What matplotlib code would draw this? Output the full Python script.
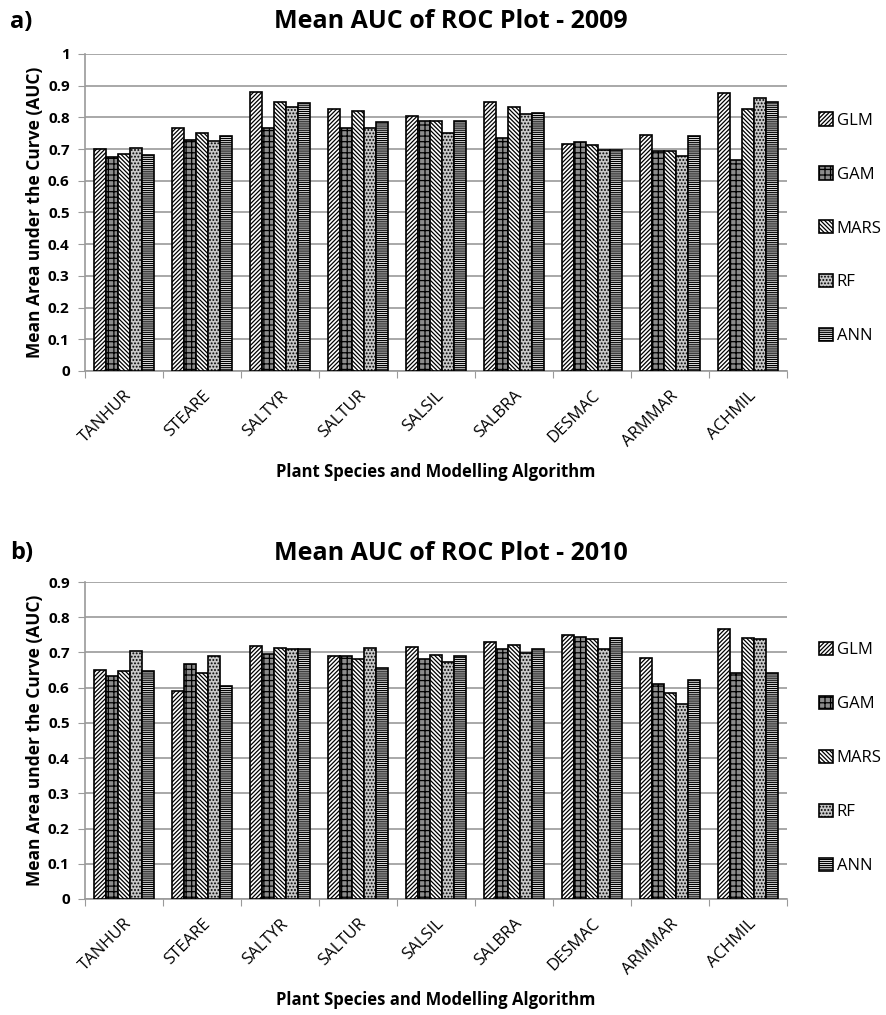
import numpy as np
import matplotlib as mpl
import matplotlib.pyplot as plt

mpl.use('Agg')

plt.rcParams['font.family'] = ['Open Sans', 'DejaVu Sans']
plt.rcParams['hatch.linewidth'] = 0.9

species = ["TANHUR", "STEARE", "SALTYR", "SALTUR", "SALSIL",
           "SALBRA", "DESMAC", "ARMMAR", "ACHMIL"]
models = ["GLM", "GAM", "MARS", "RF", "ANN"]

# mean AUC per species, one list per algorithm
auc_2009 = {
    "GLM":  [0.700, 0.765, 0.881, 0.828, 0.804, 0.847, 0.717, 0.744, 0.876],
    "GAM":  [0.675, 0.728, 0.767, 0.767, 0.789, 0.735, 0.723, 0.694, 0.667],
    "MARS": [0.684, 0.752, 0.847, 0.820, 0.789, 0.833, 0.712, 0.694, 0.828],
    "RF":   [0.704, 0.725, 0.833, 0.767, 0.751, 0.810, 0.698, 0.677, 0.860],
    "ANN":  [0.680, 0.742, 0.844, 0.786, 0.789, 0.814, 0.696, 0.741, 0.847],
}
auc_2010 = {
    "GLM":  [0.651, 0.591, 0.719, 0.689, 0.715, 0.729, 0.750, 0.684, 0.766],
    "GAM":  [0.634, 0.668, 0.695, 0.689, 0.682, 0.710, 0.745, 0.610, 0.641],
    "MARS": [0.646, 0.643, 0.712, 0.681, 0.693, 0.720, 0.739, 0.585, 0.741],
    "RF":   [0.705, 0.689, 0.709, 0.712, 0.673, 0.698, 0.710, 0.554, 0.738],
    "ANN":  [0.648, 0.606, 0.709, 0.657, 0.689, 0.710, 0.741, 0.623, 0.641],
}

styles = {
    "GLM":  dict(facecolor="white", hatch="////////"),
    "GAM":  dict(facecolor="#8c8c8c", hatch="+++"),
    "MARS": dict(facecolor="white", hatch="\\\\\\\\\\\\\\\\"),
    "RF":   dict(facecolor="#c8c8c8", hatch="....."),
    "ANN":  dict(facecolor="white", hatch="--------"),
}


def draw_panel(ax, data, ymax, title, letter, title_y, leg_y):
    x = np.arange(len(species)) + 0.5
    w = 0.155
    for i, m in enumerate(models):
        ax.bar(x + (i - 2) * w, data[m], w, edgecolor="black",
               linewidth=1.2, label=m, zorder=3, **styles[m])

    ax.set_xlim(0, len(species))
    ax.set_ylim(0, ymax)
    yt = np.round(np.arange(0, ymax + 0.001, 0.1), 1)
    ax.set_yticks(yt)
    ax.set_yticklabels([("%g" % v) for v in yt], fontsize=11,
                       fontweight="bold")
    ax.yaxis.grid(True, color="#9a9a9a", linewidth=1.2, zorder=0)
    ax.set_axisbelow(True)

    # category boundary ticks, labels at category centres
    ax.set_xticks(np.arange(len(species) + 1))
    ax.set_xticklabels([])
    ax.set_xticks(x, minor=True)
    ax.set_xticklabels(species, minor=True, rotation=45, ha="right",
                       rotation_mode="anchor", fontsize=12)
    ax.tick_params(axis="x", which="major", length=5, color="#9a9a9a")
    ax.tick_params(axis="x", which="minor", length=0, pad=12)
    ax.tick_params(axis="y", length=5, color="#9a9a9a", pad=6)

    for s in ["top", "right"]:
        ax.spines[s].set_visible(False)
    for s in ["left", "bottom"]:
        ax.spines[s].set_color("#9a9a9a")
        ax.spines[s].set_linewidth(1.2)

    ax.set_ylabel("Mean Area under the Curve (AUC)", fontsize=12.5,
                  fontweight="bold", labelpad=3)
    ax.set_xlabel("Plant Species and Modelling Algorithm", fontsize=12,
                  fontweight="bold", labelpad=10)
    fig.text(451 / 886, title_y, title, fontsize=18, fontweight="bold",
             ha="center", va="center")
    fig.text(10 / 886, title_y, letter, fontsize=17, fontweight="bold",
             ha="left", va="center")

    leg = ax.legend(loc="center left", bbox_to_anchor=(1.045, leg_y),
                    frameon=False, fontsize=12, handlelength=0.85,
                    handleheight=0.85, handletextpad=0.25,
                    labelspacing=2.25, borderpad=0, borderaxespad=0)
    return leg


fig = plt.figure(figsize=(8.86, 10.15), dpi=100)
ax1 = fig.add_axes([0.0959, 0.6345, 0.7923, 0.3123])
ax2 = fig.add_axes([0.0959, 0.1143, 0.7923, 0.3123])

draw_panel(ax1, auc_2009, 1.0, "Mean AUC of ROC Plot - 2009", "a)",
           1 - 22 / 1015, 0.45)
draw_panel(ax2, auc_2010, 0.9, "Mean AUC of ROC Plot - 2010", "b)",
           1 - 553 / 1015, 0.445)

fig.savefig("out.png", dpi=100)
plt.close()
